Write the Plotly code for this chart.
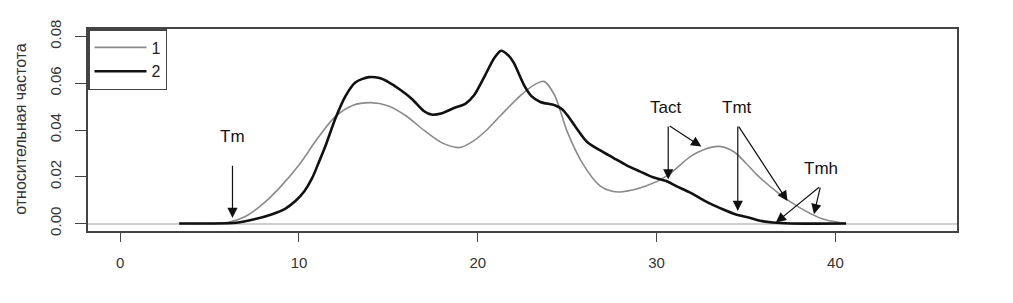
import plotly.graph_objects as go

# Series 1 (thin gray)
x1 = [3.3, 5.0, 6.0, 7.0, 8.0, 9.0, 10.0, 11.0, 12.0, 13.0, 14.0, 15.0, 16.0, 17.0,
      18.0, 19.0, 19.7, 20.5, 21.3, 22.4, 23.2, 23.7, 24.3, 25.0, 25.9, 26.85, 27.5,
      28.1, 29.4, 30.6, 31.9, 32.7, 33.5, 34.3, 35.0, 35.6, 36.9, 38.0, 39.3, 40.3, 40.6]
y1 = [0.0, 0.0, 0.0004, 0.003, 0.0085, 0.016, 0.025, 0.036, 0.0455, 0.0505, 0.0517,
      0.0503, 0.046, 0.0398, 0.0345, 0.0325, 0.035, 0.040, 0.0464, 0.0548, 0.0595,
      0.0608, 0.0548, 0.0393, 0.0252, 0.016, 0.0138, 0.0136, 0.016, 0.0205, 0.0287,
      0.0318, 0.033, 0.0308, 0.0258, 0.0209, 0.0125, 0.0068, 0.0019, 0.0003, 0.0]

# Series 2 (thick black)
x2 = [3.3, 5.0, 6.5, 7.5, 8.5, 9.2, 9.8, 10.3, 10.74, 11.1, 11.5, 12.04, 12.6, 13.15,
      13.9, 14.5, 15.0, 15.7, 16.3, 17.0, 17.4, 18.0, 18.7, 19.3, 19.8, 20.4, 20.9,
      21.3, 21.7, 22.0, 22.6, 23.0, 23.5, 24.3, 24.7, 25.0, 25.5, 26.1, 26.8, 27.6,
      28.3, 29.06, 29.8, 30.6, 31.1, 31.8, 32.4, 33.0, 33.7, 34.4, 35.2, 35.8, 36.5,
      37.5, 40.6]
y2 = [0.0, 0.0, 0.0003, 0.0018, 0.004, 0.0062, 0.0096, 0.0138, 0.0195, 0.026, 0.0336,
      0.045, 0.0545, 0.0603, 0.0626, 0.0622, 0.0605, 0.057, 0.0534, 0.048, 0.0466,
      0.0472, 0.0495, 0.0512, 0.055, 0.0633, 0.0705, 0.0739, 0.072, 0.0689, 0.059,
      0.0545, 0.052, 0.0506, 0.049, 0.0464, 0.041, 0.035, 0.0315, 0.028, 0.025, 0.0223,
      0.0198, 0.018, 0.016, 0.0135, 0.011, 0.0085, 0.0061, 0.004, 0.0025, 0.0012,
      0.0004, 0.0, 0.0]

series_names = ["1", "2"]

# Labelled points: label, label position, arrow tail, arrow heads
labels = ["Tm", "Tact", "Tmt", "Tmh"]
label_x = [6.28, 30.5, 34.5, 39.2]
label_y = [0.0372, 0.0495, 0.0495, 0.0235]
tail_x = [6.28, 30.65, 34.54, 39.17]
tail_y = [0.0253, 0.0421, 0.0421, 0.016]
head_x = [[6.28], [30.65, 32.5], [34.54, 37.32], [36.67, 38.8]]
head_y = [[0.0024], [0.0188, 0.0329], [0.0054, 0.0096], [0.0004, 0.004]]

x_ticks = [0, 10, 20, 30, 40]
y_ticks = [0.0, 0.02, 0.04, 0.06, 0.08]
y_ticktext = ["0.00", "0.02", "0.04", "0.06", "0.08"]
y_title = "относительная частота"

FONT = "Liberation Sans, Arial, sans-serif"

fig = go.Figure()
fig.add_trace(go.Scatter(x=x1, y=y1, mode="lines", name=series_names[0],
                         line=dict(color="#8a8a8a", width=1.6, shape="spline", smoothing=0.8)))
fig.add_trace(go.Scatter(x=x2, y=y2, mode="lines", name=series_names[1],
                         line=dict(color="#111111", width=2.6, shape="spline", smoothing=0.8)))

annotations = []
for i, lab in enumerate(labels):
    annotations.append(dict(x=label_x[i], y=label_y[i], xref="x", yref="y", text=lab,
                            showarrow=False, font=dict(family=FONT, size=17, color="#111")))
    for hx, hy in zip(head_x[i], head_y[i]):
        annotations.append(dict(x=hx, y=hy, xref="x", yref="y", ax=tail_x[i], ay=tail_y[i],
                                axref="x", ayref="y", text="", showarrow=True,
                                arrowhead=2, arrowsize=1.7, arrowwidth=1.2, arrowcolor="#111"))

# y-axis title
annotations.append(dict(x=-0.078, y=0.507, xref="paper", yref="paper", text=y_title,
                        textangle=-90, showarrow=False, xanchor="center", yanchor="middle",
                        font=dict(family=FONT, size=16, color="#333")))

# page body has an 8px margin, so the figure is made 8px smaller and margins shifted
fig.update_layout(
    width=1005, height=295,
    margin=dict(l=80, r=56, t=19, b=72),
    paper_bgcolor="white", plot_bgcolor="white",
    font=dict(family=FONT, color="#333"),
    showlegend=True,
    legend=dict(x=0, y=1, xanchor="left", yanchor="top", bgcolor="white",
                bordercolor="#444", borderwidth=1.5, font=dict(family=FONT, size=16, color="#222"),
                itemwidth=52, tracegroupgap=0),
    annotations=annotations,
)
fig.update_xaxes(range=[-1.8, 46.8], tickvals=x_ticks, ticks="outside", ticklen=9,
                 tickwidth=1.3, tickcolor="#444", showgrid=False, zeroline=False,
                 showline=True, mirror=True, linecolor="#444", linewidth=1.5,
                 tickfont=dict(family=FONT, size=15, color="#333"), ticklabelstandoff=8)
fig.update_yaxes(range=[-0.0032, 0.0832], tickvals=y_ticks, ticktext=y_ticktext,
                 ticks="outside", ticklen=11, tickwidth=1.3, tickcolor="#444",
                 showgrid=False, zeroline=True, zerolinecolor="#cfcfcf", zerolinewidth=2,
                 showline=True, mirror=True, linecolor="#444", linewidth=1.5,
                 tickangle=-90, tickfont=dict(family=FONT, size=15, color="#333"),
                 ticklabelstandoff=8)

fig.write_html("out.html")
